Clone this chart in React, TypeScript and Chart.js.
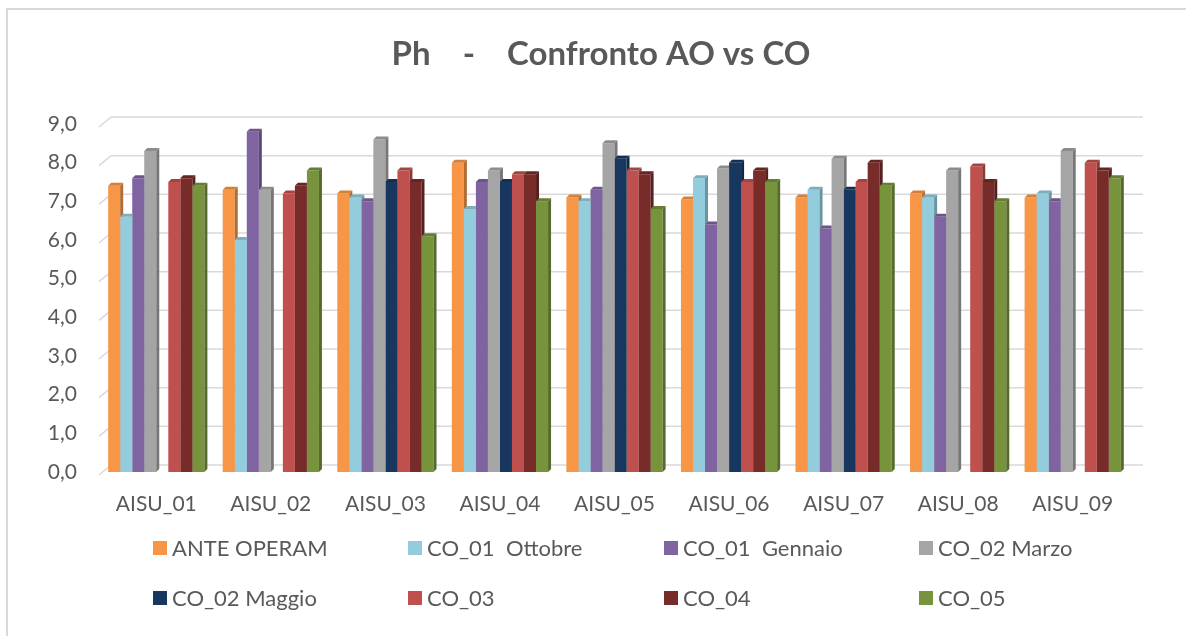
import { useEffect, useRef } from 'react';
import { Chart, registerables } from 'chart.js';

Chart.register(...registerables);

// Monitoring stations (categories)
const stations = ['AISU_01', 'AISU_02', 'AISU_03', 'AISU_04', 'AISU_05', 'AISU_06', 'AISU_07', 'AISU_08', 'AISU_09'];

// Campaign names and colours
const seriesNames = ['ANTE OPERAM', 'CO_01  Ottobre', 'CO_01  Gennaio', 'CO_02 Marzo', 'CO_02 Maggio', 'CO_03', 'CO_04', 'CO_05'];
const seriesColors = ['#F79646', '#93CDDD', '#8064A2', '#A5A5A5', '#17375E', '#C0504D', '#772C2A', '#77933C'];

// pH values per campaign (null = not sampled)
const anteOperam = [7.4, 7.3, 7.2, 8.0, 7.1, 7.05, 7.1, 7.2, 7.1];
const co01Ottobre = [6.6, 6.0, 7.1, 6.8, 7.0, 7.6, 7.3, 7.1, 7.2];
const co01Gennaio = [7.6, 8.8, 7.0, 7.5, 7.3, 6.4, 6.3, 6.6, 7.0];
const co02Marzo = [8.3, 7.3, 8.6, 7.8, 8.5, 7.85, 8.1, 7.8, 8.3];
const co02Maggio = [null, null, 7.5, 7.5, 8.1, 8.0, 7.3, null, null];
const co03 = [7.5, 7.2, 7.8, 7.7, 7.8, 7.5, 7.5, 7.9, 8.0];
const co04 = [7.6, 7.4, 7.5, 7.7, 7.7, 7.8, 8.0, 7.5, 7.8];
const co05 = [7.4, 7.8, 6.1, 7.0, 6.8, 7.5, 7.4, 7.0, 7.6];

const seriesValues = [anteOperam, co01Ottobre, co01Gennaio, co02Marzo, co02Maggio, co03, co04, co05];

// Value axis
const yMin = 0;
const yMax = 9;
const yStep = 1;

const chartTitle = 'Ph    -    Confronto AO vs CO';

const FONT = "Lato, 'Noto Sans', sans-serif";
const TEXT_COLOR = '#595959';
const DEPTH = 3;

function shade(hex: string, f: number): string {
  const n = parseInt(hex.slice(1), 16);
  const r = Math.round(((n >> 16) & 255) * f);
  const g = Math.round(((n >> 8) & 255) * f);
  const b = Math.round((n & 255) * f);
  return `rgb(${r},${g},${b})`;
}

// Chart heading
const heading = {
  id: 'heading',
  afterDraw(chart: any) {
    const { ctx } = chart;
    ctx.save();
    ctx.font = `bold 33px ${FONT}`;
    ctx.fillStyle = TEXT_COLOR;
    ctx.textAlign = 'center';
    ctx.textBaseline = 'middle';
    ctx.fillText(chartTitle, 601, 54);
    ctx.restore();
  },
};

// Back-wall gridlines with a short diagonal on the left side wall
const wallGrid = {
  id: 'wallGrid',
  beforeDatasetsDraw(chart: any) {
    const { ctx, chartArea, scales } = chart;
    const y = scales.y;
    ctx.save();
    ctx.strokeStyle = '#D9D9D9';
    ctx.lineWidth = 1.5;
    for (let v = yMin; v <= yMax; v += yStep) {
      const py = y.getPixelForValue(v);
      ctx.beginPath();
      ctx.moveTo(chartArea.left, py + 3);
      ctx.lineTo(chartArea.left + 12, py - 7);
      ctx.lineTo(chartArea.right + 13, py - 7);
      ctx.stroke();
    }
    ctx.restore();
  },
};

// Side and top faces that give each bar its depth
const barDepth = {
  id: 'barDepth',
  afterDatasetsDraw(chart: any) {
    const { ctx } = chart;
    const W = chart.width;
    const H = chart.height;
    const metas = chart.data.datasets.map((_: any, i: number) => chart.getDatasetMeta(i));
    for (let j = 0; j < stations.length; j++) {
      for (let i = 0; i < metas.length; i++) {
        const val = chart.data.datasets[i].data[j];
        if (val == null) continue;
        const el = metas[i].data[j];
        const { x, y, base, width } = el.getProps(['x', 'y', 'base', 'width'], true);
        const left = x - width / 2;
        const right = x + width / 2;
        const color = seriesColors[i];
        ctx.save();
        if (i + 1 < metas.length && chart.data.datasets[i + 1].data[j] != null) {
          const n = metas[i + 1].data[j].getProps(['x', 'y', 'base', 'width'], true);
          ctx.beginPath();
          ctx.rect(0, 0, W, H);
          ctx.rect(n.x - n.width / 2, n.y, n.width, n.base - n.y);
          ctx.clip('evenodd');
        }
        ctx.fillStyle = shade(color, 0.72);
        ctx.beginPath();
        ctx.moveTo(right, y);
        ctx.lineTo(right + DEPTH, y - DEPTH);
        ctx.lineTo(right + DEPTH, base - DEPTH);
        ctx.lineTo(right, base);
        ctx.closePath();
        ctx.fill();
        ctx.fillStyle = shade(color, 0.85);
        ctx.beginPath();
        ctx.moveTo(left, y);
        ctx.lineTo(left + DEPTH, y - DEPTH);
        ctx.lineTo(right + DEPTH, y - DEPTH);
        ctx.lineTo(right, y);
        ctx.closePath();
        ctx.fill();
        ctx.restore();
      }
    }
  },
};

// Two-row legend with fixed columns
const gridLegend = {
  id: 'gridLegend',
  afterDraw(chart: any) {
    const { ctx } = chart;
    const colX = [153, 408, 664, 919];
    const rowY = [548, 598];
    ctx.save();
    ctx.font = `22px ${FONT}`;
    ctx.textBaseline = 'middle';
    ctx.textAlign = 'left';
    chart.data.datasets.forEach((ds: any, i: number) => {
      const cx = colX[i % 4];
      const cy = rowY[Math.floor(i / 4)];
      ctx.fillStyle = ds.backgroundColor;
      ctx.fillRect(cx, cy - 7, 14, 14);
      ctx.fillStyle = TEXT_COLOR;
      ctx.fillText(ds.label, cx + 19, cy + 1);
    });
    ctx.restore();
  },
};

export default function App() {
  const canvasRef = useRef<HTMLCanvasElement | null>(null);

  useEffect(() => {
    const canvas = canvasRef.current;
    if (!canvas) return;
    const chart = new Chart(canvas, {
      type: 'bar',
      data: {
        labels: stations,
        datasets: seriesNames.map((name, i) => ({
          label: name,
          data: seriesValues[i],
          backgroundColor: seriesColors[i],
          borderWidth: 0,
          categoryPercentage: 0.84,
          barPercentage: 1,
        })),
      },
      options: {
        responsive: false,
        animation: false,
        devicePixelRatio: 1,
        layout: { padding: { left: 0, right: 56, top: 124, bottom: 0 } },
        plugins: {
          legend: { display: false },
          tooltip: { enabled: false },
          title: { display: false },
        },
        scales: {
          x: {
            grid: { display: false, drawTicks: false },
            border: { display: false },
            ticks: { color: TEXT_COLOR, font: { family: FONT, size: 21 }, padding: 20 },
            afterFit(scale: any) {
              scale.height = 164;
            },
          },
          y: {
            min: yMin,
            max: yMax,
            grid: { display: false, drawTicks: false },
            border: { display: false },
            ticks: {
              stepSize: yStep,
              color: TEXT_COLOR,
              font: { family: FONT, size: 21 },
              padding: 22,
              callback: (v: any) => Number(v).toFixed(1).replace('.', ','),
            },
            afterFit(scale: any) {
              scale.width = 99;
            },
          },
        },
      },
      plugins: [wallGrid, barDepth, gridLegend, heading],
    });
    return () => chart.destroy();
  }, []);

  return (
    <div style={{ position: 'fixed', left: 0, top: 0, width: 1186, height: 636, overflow: 'hidden', background: '#fff' }}>
      <div
        style={{
          position: 'absolute',
          left: 6,
          top: 8,
          width: 1200,
          height: 650,
          border: '2px solid #D9D9D9',
          boxSizing: 'border-box',
        }}
      />
      <canvas ref={canvasRef} width={1186} height={636} style={{ position: 'absolute', left: 0, top: 0 }} />
    </div>
  );
}
